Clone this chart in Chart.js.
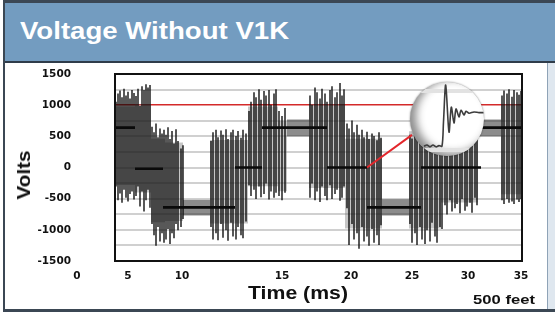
<!DOCTYPE html>
<html><head><meta charset="utf-8">
<script src="https://cdn.jsdelivr.net/npm/chart.js@4.4.1/dist/chart.umd.min.js"></script>
<style>
html,body{margin:0;padding:0;width:555px;height:312px;overflow:hidden;background:#fff;font-family:"Liberation Sans",Arial,sans-serif;}
#frame{position:absolute;left:3px;top:0;width:552px;height:312px;box-sizing:border-box;border-left:2px solid #3b4754;border-top:3px solid #3b4754;border-bottom:3px solid #3b4754;background:#fff;}
#banner{position:absolute;left:5px;top:3px;width:550px;height:58px;background:#739cc0;border-bottom:2px solid #2f3c4a;}
#title{position:absolute;left:20px;top:20px;font-size:23px;line-height:23px;font-weight:bold;color:#fff;white-space:nowrap;transform:scaleX(1.2);transform-origin:0 0;}
#rstrip{position:absolute;left:547px;top:63px;width:8px;height:246px;background:#dfe7ef;border-left:1px solid #8fa3b7;}
#main{position:absolute;left:0;top:62px;width:555px;height:246px;}
.lbl{position:absolute;font-weight:bold;color:#111;white-space:nowrap;line-height:1;}
#volts{left:24px;top:175px;font-size:18px;transform:translate(-50%,-50%) rotate(-90deg) scaleX(1.15);}
#time{left:298px;top:293px;font-size:18px;transform:translate(-50%,-50%) scaleX(1.18);}
#feet{left:504px;top:300px;font-size:13.5px;transform:translate(-50%,-50%) scaleX(1.23);}
#lens{position:absolute;left:410px;top:82px;width:74px;height:74px;border-radius:50%;overflow:hidden;background:#fff;box-shadow:inset 6px -3px 9px rgba(0,0,0,0.45),0 0 2px rgba(0,0,0,0.5);}
#inset{position:absolute;left:0;top:0;}
</style></head>
<body>
<div id="frame"></div>
<div id="banner"></div>
<div id="title">Voltage Without V1K</div>
<div id="rstrip"></div>
<canvas id="main" width="555" height="246"></canvas>
<div class="lbl" id="volts">Volts</div>
<div class="lbl" id="time">Time (ms)</div>
<div class="lbl" id="feet">500 feet</div>
<div id="lens"><canvas id="inset" width="74" height="74"></canvas></div>
<script>
// ---- axis ticks ----
const xTickPos = [-38, 13, 67, 167, 236, 297, 353, 406];
const xTickLabels = ['0', '5', '10', '15', '20', '25', '30', '35'];
const yLabelValues = [1500, 1000, 500, 0, -500, -1000, -1500];
const yGridStep = 250;
const limitLine = 1000;

// ---- switching spikes (x = sample position, volts) ----
const spikeX = [
  1,3,5,7,9,11,13,15,17,19,
  21,23,25,27,29,31,33,35,
  37,39,41,43,45,47,49,
  51,53,55,57,59,61,63,66,68,
  96,98,101,103,106,108,111,113,116,118,121,123,126,128,131,
  134,136,139,141,144,146,149,151,154,156,159,161,
  164,167,170,
  195,197,200,202,205,207,210,212,215,217,220,222,225,227,229,
  232,234,237,239,242,244,247,249,252,254,257,259,262,264,266,
  295,297,300,302,305,307,310,312,315,317,320,322,325,
  327,330,332,335,337,340,342,345,347,350,352,355,357,360,362,
  387,389,392,394,397,399,402,404,406
];
const spikeHigh = [
  1050,1180,1230,1120,1260,1150,1210,1100,1240,1190,
  1140,1260,980,1300,1240,1330,1280,1320,
  650,560,700,480,620,540,600,
  520,640,450,580,380,610,420,300,350,
  420,560,600,480,590,520,610,450,560,600,500,580,470,600,540,
  900,1050,1200,1120,1250,1080,1220,1150,1240,1000,1180,1250,
  900,820,950,
  1150,1000,1280,1200,1100,1260,1180,1050,1240,1300,1120,1200,1350,1150,1250,
  700,620,750,560,680,520,600,480,570,450,540,500,430,560,470,
  520,460,580,500,650,700,750,800,720,850,780,900,820,
  800,750,900,700,850,780,650,820,720,600,760,680,550,700,620,
  1150,1230,1180,1250,1130,1240,1200,1160,1220
];
const spikeLow = [
  -300,-520,-410,-560,-350,-480,-540,-420,-380,-510,
  -450,-300,-620,-380,-700,-520,-350,-640,
  -900,-1080,-1250,-950,-1180,-1050,-1200,
  -1150,-980,-1220,-1050,-1130,-900,-1000,-950,-820,
  -950,-1150,-1050,-1160,-900,-1120,-1000,-1170,-880,-1100,-1150,-950,-1080,-1130,-860,
  -280,-450,-350,-500,-300,-470,-420,-250,-510,-380,-480,-400,
  -450,-520,-400,
  -480,-250,-520,-380,-550,-300,-450,-520,-280,-500,-420,-350,-530,-480,-300,
  -650,-1240,-900,-1150,-1050,-1300,-950,-1180,-1100,-1250,-980,-1200,-1080,-1240,-920,
  -900,-1200,-1050,-1240,-950,-1150,-1220,-1000,-1180,-880,-1100,-1200,-950,
  -980,-600,-750,-520,-700,-650,-580,-730,-500,-690,-620,-560,-720,-480,-600,
  -520,-580,-500,-560,-540,-580,-510,-550,-500
];

// ---- dense ringing envelope (grey haze between spikes) ----
const bandStart  = [0,    20,   36,   50,   95,   133,  163,  194,  230,   294,   326,  386];
const bandEnd    = [20,   36,   50,   68,   133,  163,  172,  230,  267,   326,   363,  407];
const bandTop    = [980,  1020, 460,  400,  440,  980,  740,  1020, 460,   580,   600,  1020];
const bandBottom = [-280, -400, -880, -860, -900, -300, -380, -330, -980,  -980,  -560, -430];

// ---- quiet ripple around the level between bursts ----
const rippleStart  = [68,   172, 267,  363];
const rippleEnd    = [95,   194, 294,  386];
const rippleTop    = [-520, 770, -510, 770];
const rippleBottom = [-770, 500, -770, 500];

// ---- PWM fundamental level ----
const levelStart = [0,   20,  48,   120, 147, 212, 252,  306, 366];
const levelEnd   = [20,  48,  120,  147, 212, 252, 306,  366, 407];
const levelV     = [640, -20, -640, 0,   640, 0,   -640, 0,   640];

// ---- callout line to the magnified view ----
const calloutX = [252, 297];
const calloutV = [0, 524];

// ---- magnified single transition (inset) ----
const insetT = [0, 3, 6, 9, 12, 15, 18, 19.5, 21.7, 25, 27.3, 30, 32, 35, 37, 40, 42, 45, 50, 55, 62];
const insetV = [0, 2, -1, 2, -1, 1, 0, 40, 100, 23, 64, 38, 61, 48, 59, 51, 57, 54, 56, 55, 55];
const insetBands = [-6, 90];

// ---------------------------------------------------------------
const FONT = {family: '"DejaVu Sans", sans-serif', size: 10.5, weight: 'bold'};

const datasets = [];
function addBand(s, e, t, b, color) {
  datasets.push({type: 'line', order: 5, data: [{x: s, y: t}, {x: e, y: t}],
    borderWidth: 0, pointRadius: 0, fill: '+1', backgroundColor: color});
  datasets.push({type: 'line', order: 5, data: [{x: s, y: b}, {x: e, y: b}],
    borderWidth: 0, pointRadius: 0, fill: false});
}
bandStart.forEach((s, i) => addBand(s, bandEnd[i], bandTop[i], bandBottom[i], 'rgba(120,120,120,0.42)'));
rippleStart.forEach((s, i) => addBand(s, rippleEnd[i], rippleTop[i], rippleBottom[i], 'rgba(45,45,45,0.55)'));
datasets.push({type: 'bar', order: 3, data: spikeX.map((x, i) => ({x: x, y: [spikeLow[i], spikeHigh[i]]})),
  backgroundColor: 'rgba(10,10,10,0.82)', barThickness: 1, grouped: false});
const levelData = [];
levelStart.forEach((s, i) => { levelData.push({x: s, y: levelV[i]}, {x: levelEnd[i], y: levelV[i]}, {x: levelEnd[i] + 0.01, y: null}); });
datasets.push({type: 'line', order: 2, data: levelData, borderColor: '#0a0a0a', borderWidth: 2.6, pointRadius: 0, spanGaps: false});
datasets.push({type: 'line', order: 1, data: calloutX.map((x, i) => ({x: x, y: calloutV[i]})), borderColor: '#e3262b', borderWidth: 2, pointRadius: 0});

const framePlugin = {
  id: 'frame',
  afterDatasetsDraw(chart) {
    const a = chart.chartArea, ctx = chart.ctx, xs = chart.scales.x;
    ctx.save();
    ctx.strokeStyle = '#111'; ctx.lineWidth = 2;
    ctx.strokeRect(a.left, a.top, a.right - a.left, a.bottom - a.top);
    // tick labels that lie left of the plotted range, on the same row as the others
    const items = xs.getLabelItems();
    if (items.length) {
      const it = items[0];
      ctx.font = 'bold 10.5px "DejaVu Sans", sans-serif';
      ctx.fillStyle = '#111'; ctx.textAlign = 'center'; ctx.textBaseline = it.options.textBaseline;
      const yRow = it.options.translation[1] + (it.textOffset || 0);
      xTickPos.forEach((v, i) => {
        if (v < xs.min || v > xs.max) ctx.fillText(xTickLabels[i], xs.getPixelForValue(v), yRow);
      });
    }
    ctx.restore();
  }
};

new Chart(document.getElementById('main'), {
  type: 'bar',
  data: {datasets},
  plugins: [framePlugin],
  options: {
    responsive: false, animation: false, devicePixelRatio: 1,
    layout: {padding: {left: 0, top: 12, right: 33, bottom: 17}},
    plugins: {legend: {display: false}, tooltip: {enabled: false}},
    scales: {
      x: {type: 'linear', min: 0, max: 407, offset: false,
        grid: {display: false, offset: false}, border: {display: false},
        afterBuildTicks: s => { s.ticks = xTickPos.filter(v => v >= s.min && v <= s.max).map(v => ({value: v})); },
        afterFit: s => { s.height = 30; s.paddingLeft = 0; s.paddingRight = 0; },
        ticks: {autoSkip: false, maxRotation: 0, padding: 1, color: '#111', font: FONT,
          callback: v => xTickLabels[xTickPos.indexOf(v)]}},
      y: {type: 'linear', min: -1500, max: 1500,
        border: {display: false},
        afterBuildTicks: s => { const t = []; for (let v = s.min; v <= s.max; v += yGridStep) t.push({value: v}); s.ticks = t; },
        afterFit: s => { s.width = 115; s.paddingTop = 0; s.paddingBottom = 0; },
        ticks: {autoSkip: false, padding: 44, color: '#111', font: FONT,
          callback: v => yLabelValues.includes(v) ? String(v) : ''},
        grid: {drawTicks: false,
          color: c => c.tick.value === limitLine ? '#d42a2a' : (Math.abs(c.tick.value) === 1500 ? 'rgba(0,0,0,0)' : '#d0d0d0'),
          lineWidth: c => c.tick.value === limitLine ? 1.6 : 2}}
    }
  }
});

new Chart(document.getElementById('inset'), {
  type: 'line',
  data: {datasets: [{data: insetT.map((t, i) => ({x: t, y: insetV[i]})), borderColor: '#3d3d3d', borderWidth: 1.6, pointRadius: 0, tension: 0.3}]},
  options: {
    responsive: false, animation: false, devicePixelRatio: 1,
    layout: {padding: 0},
    plugins: {legend: {display: false}, tooltip: {enabled: false}},
    scales: {
      x: {type: 'linear', min: -14, max: 60, display: false},
      y: {type: 'linear', min: -16, max: 105, display: true,
        afterFit: s => { s.width = 0; s.paddingTop = 0; s.paddingBottom = 0; },
        afterBuildTicks: s => { s.ticks = insetBands.map(v => ({value: v})); },
        ticks: {display: false}, border: {display: false},
        grid: {color: '#e2e2e2', lineWidth: 4, drawTicks: false}}
    }
  }
});
</script>
</body></html>
